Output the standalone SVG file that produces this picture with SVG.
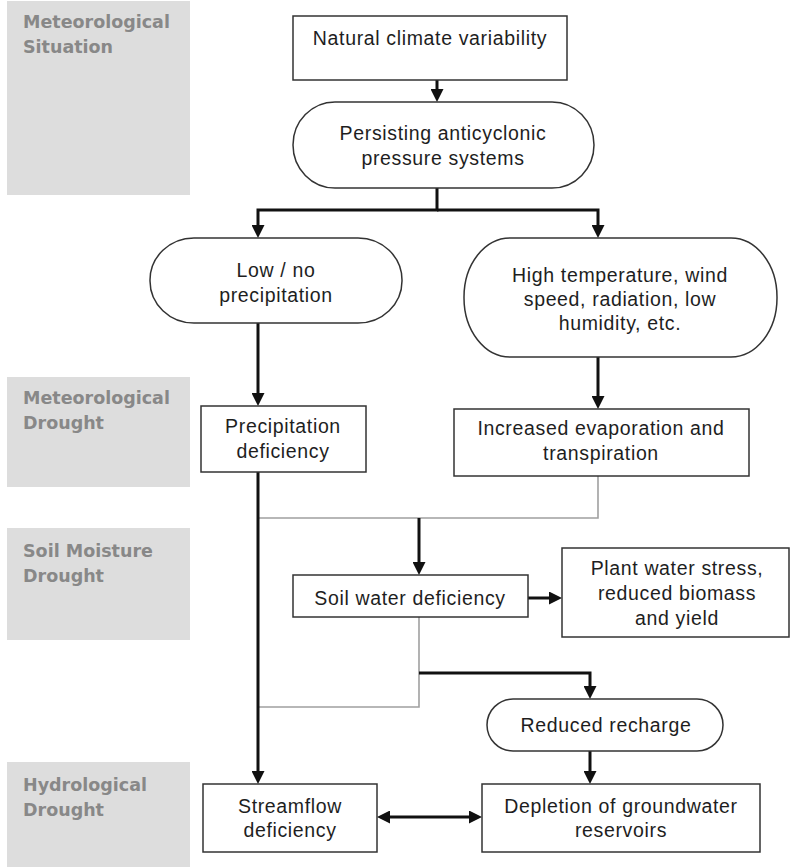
<svg xmlns="http://www.w3.org/2000/svg" width="791" height="867" viewBox="0 0 791 867">
<style>
.band{fill:#dddddd}
.bt{font-family:"DejaVu Sans",Verdana,sans-serif;font-weight:bold;font-size:17.5px;fill:#888888}
.box{fill:#ffffff;stroke:#333333;stroke-width:1.5}
.t{font-family:"Liberation Sans",Arial,sans-serif;font-size:19.5px;letter-spacing:0.65px;fill:#1e1e1e;text-anchor:middle}
.k{fill:none;stroke:#111111;stroke-width:3;stroke-linejoin:miter}
.g{fill:none;stroke:#a0a0a0;stroke-width:1.6}
</style>
<defs>
<marker id="ah" markerUnits="userSpaceOnUse" markerWidth="13" markerHeight="13" refX="6" refY="6.5" orient="auto-start-reverse" viewBox="0 0 13 13">
<path d="M0,0 L13,6.5 L0,13 z" fill="#111111"/>
</marker>
</defs>
<rect width="791" height="867" fill="#ffffff"/>
<g id="bands">
<rect class="band" x="7" y="1" width="183" height="194"/>
<text class="bt" x="23" y="28">Meteorological</text>
<text class="bt" x="23" y="53">Situation</text>
<rect class="band" x="7" y="377" width="183" height="110"/>
<text class="bt" x="23" y="404">Meteorological</text>
<text class="bt" x="23" y="429">Drought</text>
<rect class="band" x="7" y="528" width="183" height="112"/>
<text class="bt" x="23" y="557">Soil Moisture</text>
<text class="bt" x="23" y="582">Drought</text>
<rect class="band" x="7" y="762" width="183" height="105"/>
<text class="bt" x="23" y="791">Hydrological</text>
<text class="bt" x="23" y="816">Drought</text>
</g>
<g id="connectors">
<path class="k" d="M437,80 V95" stroke-width="2.5" marker-end="url(#ah)"/>
<path class="k" d="M437,188 V210 H258 V231" marker-end="url(#ah)"/>
<path class="k" d="M437,210 H598 V231" marker-end="url(#ah)"/>
<path class="k" d="M258,323 V399" marker-end="url(#ah)"/>
<path class="k" d="M598,357 V402" marker-end="url(#ah)"/>
<path class="g" d="M598,476 V518 H258"/>
<path class="g" d="M419,617 V707 H258"/>
<path class="k" d="M258,472 V777" marker-end="url(#ah)"/>
<path class="k" d="M419,518 V568" marker-end="url(#ah)"/>
<path class="k" d="M528,598 H555" marker-end="url(#ah)"/>
<path class="k" d="M419,673 H590 V692" marker-end="url(#ah)"/>
<path class="k" d="M590,751 V777" marker-end="url(#ah)"/>
<path class="k" d="M384,817 H475" marker-start="url(#ah)" marker-end="url(#ah)"/>
</g>
<g id="n1">
<rect class="box" x="293" y="16" width="274" height="64"/>
<text class="t" x="430" y="45">Natural climate variability</text>
</g>
<g id="n2">
<rect class="box" x="293" y="102" width="301" height="86" rx="42" ry="43"/>
<text class="t" x="443" y="140">Persisting anticyclonic</text>
<text class="t" x="443" y="165">pressure systems</text>
</g>
<g id="n3">
<rect class="box" x="150" y="238" width="252" height="85" rx="44" ry="42"/>
<text class="t" x="276" y="277">Low / no</text>
<text class="t" x="276" y="302">precipitation</text>
</g>
<g id="n4">
<rect class="box" x="464" y="238" width="313" height="119" rx="46" ry="59"/>
<text class="t" x="620" y="282">High temperature, wind</text>
<text class="t" x="620" y="306">speed, radiation, low</text>
<text class="t" x="620" y="330">humidity, etc.</text>
</g>
<g id="n5">
<rect class="box" x="201" y="406" width="165" height="66"/>
<text class="t" x="283" y="433">Precipitation</text>
<text class="t" x="283" y="458">deficiency</text>
</g>
<g id="n6">
<rect class="box" x="454" y="409" width="295" height="67"/>
<text class="t" x="601" y="435">Increased evaporation and</text>
<text class="t" x="601" y="460">transpiration</text>
</g>
<g id="n7">
<rect class="box" x="293" y="575" width="235" height="42"/>
<text class="t" x="410" y="605">Soil water deficiency</text>
</g>
<g id="n8">
<rect class="box" x="562" y="548" width="227" height="89"/>
<text class="t" x="677" y="575">Plant water stress,</text>
<text class="t" x="677" y="600">reduced biomass</text>
<text class="t" x="677" y="625">and yield</text>
</g>
<g id="n9">
<rect class="box" x="487" y="699" width="236" height="52" rx="26" ry="26"/>
<text class="t" x="606" y="732">Reduced recharge</text>
</g>
<g id="n10">
<rect class="box" x="482" y="784" width="278" height="68"/>
<text class="t" x="621" y="813">Depletion of groundwater</text>
<text class="t" x="621" y="837">reservoirs</text>
</g>
<g id="n11">
<rect class="box" x="203" y="784" width="174" height="68"/>
<text class="t" x="290" y="813">Streamflow</text>
<text class="t" x="290" y="837">deficiency</text>
</g>
</svg>
